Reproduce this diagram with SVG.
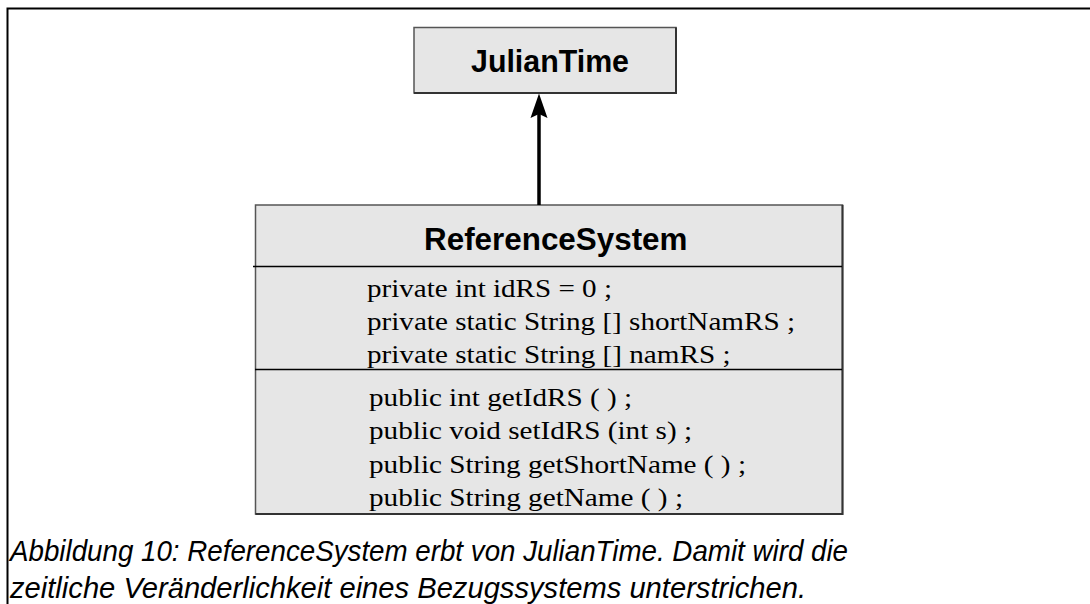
<svg xmlns="http://www.w3.org/2000/svg" width="1090" height="604" viewBox="0 0 1090 604">
<style>
.box{fill:#e6e6e6;stroke:#555;stroke-width:1.5}
.edge{fill:none;stroke:#333;stroke-width:2}
.div{stroke:#000;stroke-width:1.5}
.title{font-family:"Liberation Sans",Arial,sans-serif;font-weight:bold;font-size:31px;fill:#000}
.mem{font-family:"Liberation Serif","Times New Roman",serif;font-size:26px;fill:#000}
.cap{font-family:"Liberation Sans",Arial,sans-serif;font-style:italic;font-size:30px;fill:#000}
.frame{fill:none;stroke:#000;stroke-width:2}
</style>
<rect width="1090" height="604" fill="#fff"/>
<path class="frame" d="M7.5 604 V8.5 H1090"/>
<g id="JulianTime">
<rect class="box" x="414" y="27.5" width="262" height="65.5"/>
<path class="edge" d="M676 27.5 V93 H414"/>
<text class="title" x="471" y="71.5" textLength="158" lengthAdjust="spacingAndGlyphs">JulianTime</text>
</g>
<g id="ReferenceSystem">
<rect class="box" x="255.5" y="205" width="587" height="309"/>
<path class="edge" d="M842.5 205 V514 H255.5"/>
<text class="title" x="424" y="250" textLength="263.5" lengthAdjust="spacingAndGlyphs">ReferenceSystem</text>
<line class="div" x1="253" y1="266.5" x2="842" y2="266.5"/>
<line class="div" x1="255" y1="369.5" x2="842" y2="369.5"/>
<text class="mem" x="367" y="297" textLength="245" lengthAdjust="spacingAndGlyphs">private int idRS = 0 ;</text>
<text class="mem" x="367" y="330" textLength="428" lengthAdjust="spacingAndGlyphs">private static String [] shortNamRS ;</text>
<text class="mem" x="367" y="363" textLength="363.5" lengthAdjust="spacingAndGlyphs">private static String [] namRS ;</text>
<text class="mem" x="369" y="405.5" textLength="263" lengthAdjust="spacingAndGlyphs">public int getIdRS ( ) ;</text>
<text class="mem" x="369" y="439" textLength="323" lengthAdjust="spacingAndGlyphs">public void setIdRS (int s) ;</text>
<text class="mem" x="369" y="472.5" textLength="377" lengthAdjust="spacingAndGlyphs">public String getShortName ( ) ;</text>
<text class="mem" x="369" y="505.5" textLength="314" lengthAdjust="spacingAndGlyphs">public String getName ( ) ;</text>
</g>
<g id="connectors">
<line x1="539" y1="205" x2="539" y2="112" stroke="#000" stroke-width="3.5"/>
<path d="M539 93.5 L547.5 118 L539 114 L530.5 118 Z" fill="#000"/>
</g>
<g id="caption">
<text class="cap" x="10" y="561" textLength="838" lengthAdjust="spacingAndGlyphs">Abbildung 10: ReferenceSystem erbt von JulianTime. Damit wird die</text>
<text class="cap" x="10" y="598" textLength="796" lengthAdjust="spacingAndGlyphs">zeitliche Veränderlichkeit eines Bezugssystems unterstrichen.</text>
</g>
</svg>
